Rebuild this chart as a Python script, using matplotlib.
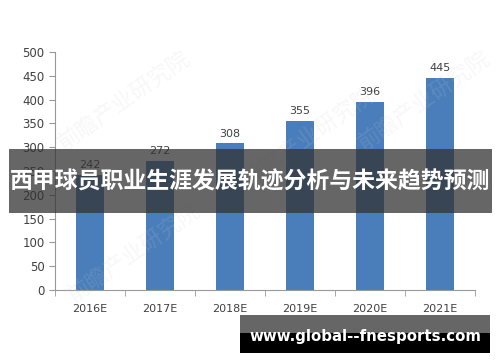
import matplotlib
matplotlib.use("Agg")
import matplotlib.pyplot as plt
from matplotlib.patches import Rectangle

# data
years = ["2016E", "2017E", "2018E", "2019E", "2020E", "2021E"]
values = [242, 272, 308, 355, 396, 445]
title = "西甲球员职业生涯发展轨迹分析与未来趋势预测"
site = "www.global--fnesports.com"

W, H = 500, 362
fig = plt.figure(figsize=(W / 100, H / 100), dpi=100)
ax = fig.add_axes([55 / W, 1 - 290 / H, 420 / W, 238 / H])

x = range(len(years))
ax.bar(x, values, width=0.39, color="#4a7ebb", zorder=2)
for i, v in zip(x, values):
    ax.text(i, v + 10, str(v), ha="center", va="bottom", fontsize=8, color="#404040")

ax.set_xlim(-0.5, len(years) - 0.5)
ax.set_ylim(0, 500)
ax.set_yticks(range(0, 501, 50))
ax.set_xticks(list(x))
ax.set_xticklabels(years)
ax.set_xticks([i + 0.5 for i in range(-1, len(years))], minor=True)
ax.tick_params(axis="x", which="major", length=0, pad=10, labelsize=8, labelcolor="#404040")
ax.tick_params(axis="x", which="minor", length=4, color="#999999")
ax.tick_params(axis="y", length=4, color="#999999", labelsize=8.5, labelcolor="#404040")
for s in ["top", "right"]:
    ax.spines[s].set_visible(False)
ax.spines["left"].set_color("#999999")
ax.spines["bottom"].set_color("#999999")

# faint watermark
for wx, wy in [(0.25, 0.72), (0.27, 0.3), (0.62, 0.62), (0.85, 0.72)]:
    fig.text(wx, wy, "前瞻产业研究院", fontsize=16, rotation=35, color="#cccccc",
             alpha=0.15, ha="center", va="center", family="Noto Sans CJK SC", zorder=1)

# title band
fig.patches.append(Rectangle((9 / W, 1 - 213 / H), 483 / W, 64 / H, transform=fig.transFigure,
                             facecolor="#333333", alpha=0.75, zorder=5))
fig.text(0.5, 1 - 182 / H, title, ha="center", va="center", fontsize=16.5, color="white",
         fontweight="bold", family=["Noto Sans CJK SC", "DejaVu Sans"], zorder=6)

# site box
fig.patches.append(Rectangle((240 / W, 1 - 333 / H), 250 / W, 18 / H, transform=fig.transFigure,
                             facecolor="#555555", alpha=0.9, zorder=5))
fig.patches.append(Rectangle((240 / W, 1 - 353 / H), 250 / W, 20 / H, transform=fig.transFigure,
                             facecolor="black", zorder=5))
fig.text(365 / W, 1 - 337 / H, site, ha="center", va="center", fontsize=10.8, color="white",
         fontweight="bold", zorder=6)

fig.savefig("out.png", dpi=100)
